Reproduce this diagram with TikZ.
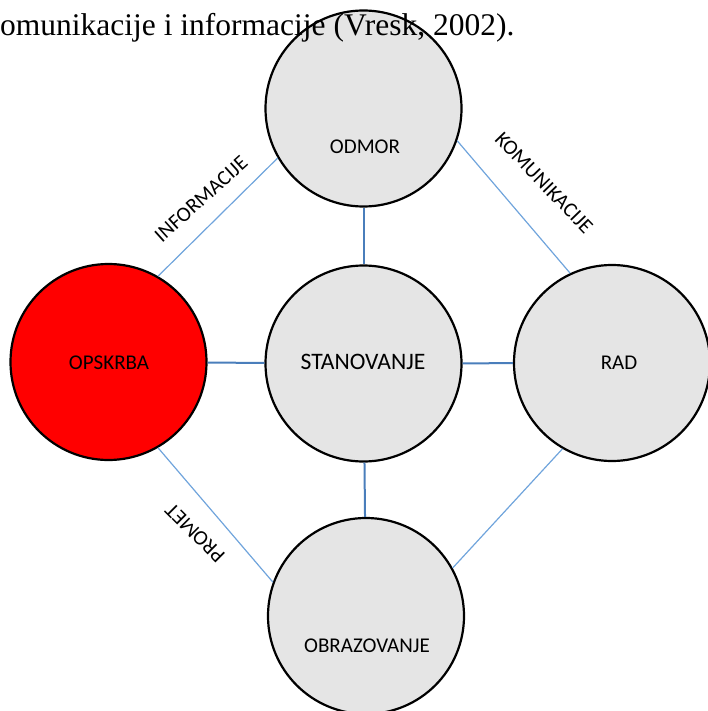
\documentclass[tikz,border=0pt]{standalone}
\usepackage{fontspec}
\setmainfont{Liberation Serif}
\newfontfamily\calibri{Carlito}
\usepackage{xcolor}
\usepackage{tikz}

\definecolor{circlegray}{RGB}{229,229,229}
\definecolor{hubblue}{RGB}{74,126,187}
\definecolor{linkblue}{RGB}{112,164,220}

\begin{document}
\begin{tikzpicture}[x=1pt, y=-1pt]
  \useasboundingbox (0,0) rectangle (707,711);
  \node[circle, minimum size=196pt, inner sep=0pt, draw, line width=2.2pt, fill=circlegray] (Odmor) at (363.5,108.5) {};  % Top
  \node[circle, minimum size=196pt, inner sep=0pt, draw, line width=2.2pt, fill=red] (Opskrba) at (108.5,362) {};  % Left
  \node[circle, minimum size=196pt, inner sep=0pt, draw, line width=2.2pt, fill=circlegray] (Stanovanje) at (363.5,363.5) {};  % Centre
  \node[circle, minimum size=196pt, inner sep=0pt, draw, line width=2.2pt, fill=circlegray] (Rad) at (612,363) {};  % Right
  \node[circle, minimum size=196pt, inner sep=0pt, draw, line width=2.2pt, fill=circlegray] (Obrazovanje) at (366,616) {};  % Bottom
  \draw[hubblue, line width=2pt] (Stanovanje) -- (Odmor);  % Connect centre
  \draw[hubblue, line width=2pt] (Stanovanje) -- (Opskrba);  % Connect centre
  \draw[hubblue, line width=2pt] (Stanovanje) -- (Rad);  % Connect centre
  \draw[hubblue, line width=2pt] (Stanovanje) -- (Obrazovanje);  % Connect centre
  \draw[linkblue, line width=1.2pt] (Odmor.210) -- (Opskrba.60);  % Outer ring
  \draw[linkblue, line width=1.2pt] (Odmor.-19) -- (Rad.115);  % Outer ring
  \draw[linkblue, line width=1.2pt] (Opskrba.-60) -- (Obrazovanje.160);  % Outer ring
  \draw[linkblue, line width=1.2pt] (Rad.240) -- (Obrazovanje.29);  % Outer ring
  \node[font=\calibri\fontsize{21}{25}\selectfont] (Odmor-Text) at (365,147) {ODMOR};  % Circle labels
  \node[font=\calibri\fontsize{21}{25}\selectfont] (Opskrba-Text) at (109,363) {OPSKRBA};
  \node[font=\calibri\fontsize{23.6}{28}\selectfont] (Stanovanje-Text) at (363,362) {STANOVANJE};
  \node[font=\calibri\fontsize{21}{25}\selectfont] (Rad-Text) at (619,363) {RAD};
  \node[font=\calibri\fontsize{21}{25}\selectfont] (Obrazovanje-Text) at (367,646) {OBRAZOVANJE};
  \node[font=\calibri\fontsize{21}{25}\selectfont, rotate=42] (Informacije) at (201,199) {INFORMACIJE};  % Link labels
  \node[font=\calibri\fontsize{21}{25}\selectfont, rotate=-46] (Komunikacije) at (544,183) {KOMUNIKACIJE};
  \node[font=\calibri\fontsize{21}{25}\selectfont, rotate=135] (Promet) at (195,533) {PROMET};
  \node[anchor=base west, inner sep=0pt, font=\fontsize{31.5}{36}\selectfont] (Caption) at (0,36) {omunikacije i informacije (Vresk, 2002).};  % Cut-off caption
\end{tikzpicture}
\end{document}
